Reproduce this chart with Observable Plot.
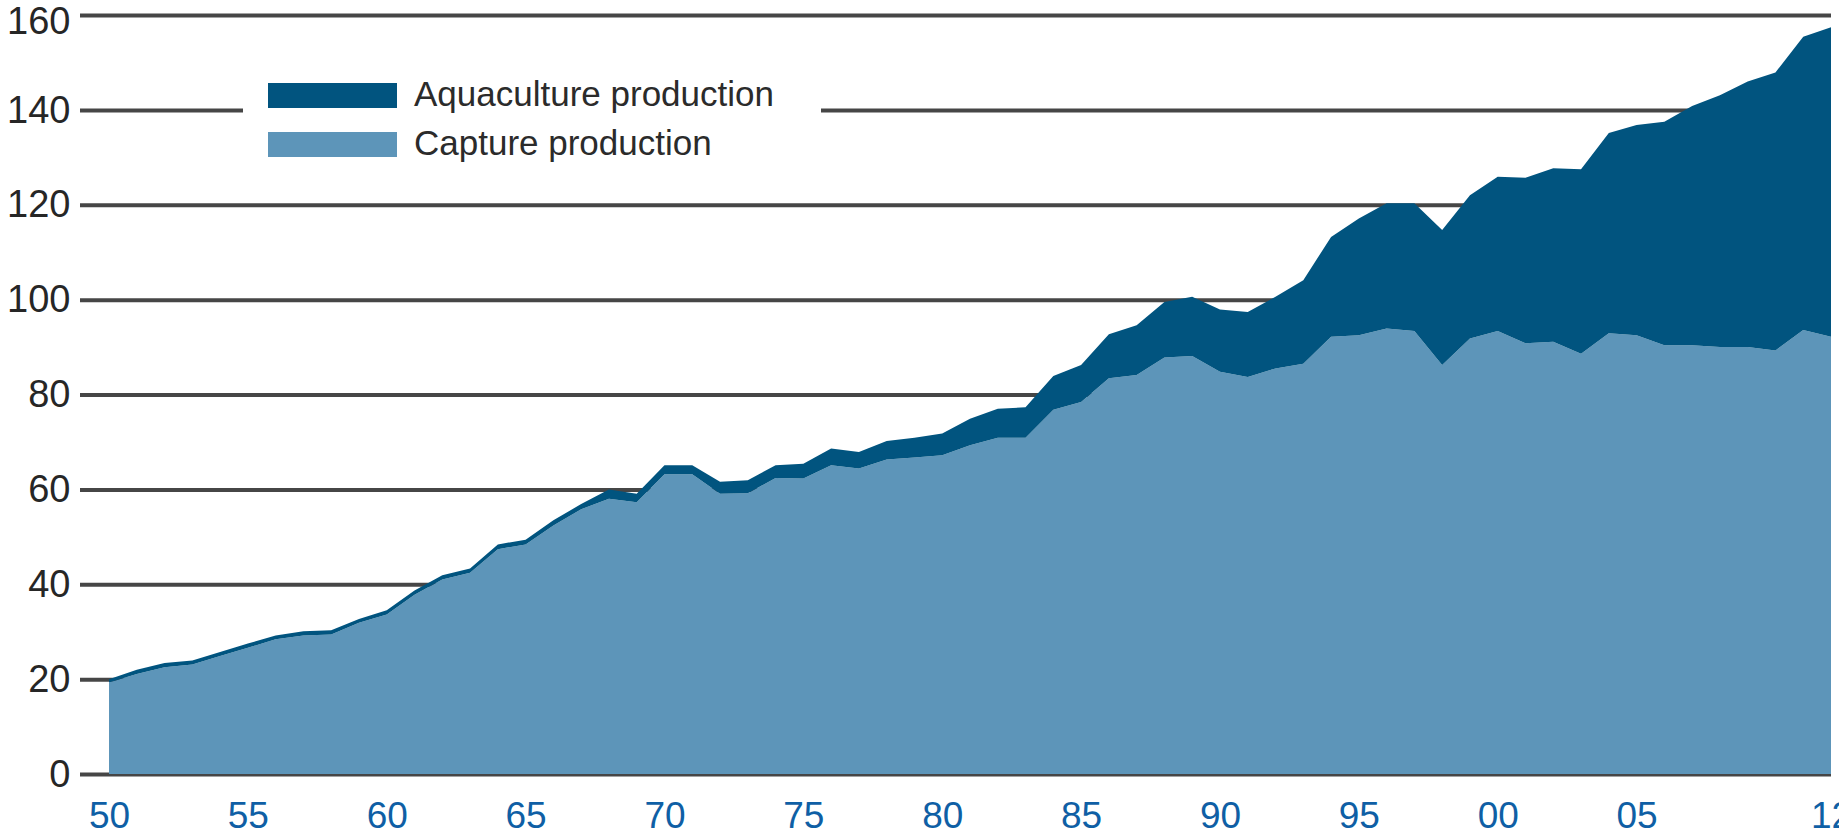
<!DOCTYPE html>
<html>
<head>
<meta charset="utf-8">
<script src="https://cdn.jsdelivr.net/npm/d3@7"></script>
<script src="https://cdn.jsdelivr.net/npm/@observablehq/plot@0.6"></script>
<style>
  html, body { margin: 0; padding: 0; background: #fff; }
  #wrap { position: relative; width: 1839px; height: 836px; overflow: hidden; }
  #legend { position: absolute; left: 243px; top: 70px; width: 578px; height: 100px; background: #fff;
            font-family: "Liberation Sans", Arial, sans-serif; font-size: 35px; color: #2b2b2b; }
  .item { position: absolute; left: 25px; height: 25px; }
  .sw { position: absolute; left: 0; top: 0; width: 129px; height: 25px; }
  .lab { position: absolute; left: 146px; top: -9px; white-space: nowrap; line-height: 40px; }
</style>
</head>
<body>
<div id="wrap">
  <div id="chart"></div>
  <div id="legend"></div>
</div>
<script>
const years = d3.range(1950, 2013);
const capture = [
  19.3, 21.1, 22.5, 23.1, 24.9, 26.6, 28.4, 29.2, 29.4, 31.9,
  33.6, 37.8, 41.0, 42.4, 47.4, 48.4, 52.4, 55.8, 58.0, 57.3,
  63.2, 63.2, 59.1, 59.2, 62.4, 62.3, 65.1, 64.4, 66.3, 66.7,
  67.2, 69.3, 70.9, 70.9, 76.8, 78.4, 83.4, 84.1, 87.8, 88.1,
  84.8, 83.7, 85.5, 86.5, 92.2, 92.5, 93.9, 93.4, 86.2, 91.8,
  93.4, 90.8, 91.1, 88.6, 92.9, 92.5, 90.4, 90.4, 90.0, 90.0,
  89.3, 93.6, 92.2
];
const aquaculture = [
  0.7, 0.9, 0.9, 0.8, 0.8, 0.9, 0.8, 0.9, 0.9, 0.8,
  0.9, 0.9, 0.9, 0.9, 1.0, 1.0, 1.1, 1.1, 2.0, 1.8,
  1.9, 1.9, 2.5, 2.7, 2.7, 3.1, 3.5, 3.5, 3.9, 4.2,
  4.6, 5.6, 6.1, 6.4, 7.1, 7.8, 9.3, 10.5, 11.7, 12.5,
  13.1, 13.7, 15.1, 17.6, 21.0, 24.6, 26.4, 26.9, 28.5, 30.2,
  32.5, 34.9, 36.6, 38.9, 42.2, 44.3, 47.1, 50.4, 53.1, 56.0,
  58.6, 61.8, 65.2
];
const seriesNames = ["Capture production", "Aquaculture production"];
const seriesColors = ["#5d95b9", "#01547f"];
const yTicks = [0, 20, 40, 60, 80, 100, 120, 140, 160];
const xTicks = [1950, 1955, 1960, 1965, 1970, 1975, 1980, 1985, 1990, 1995, 2000, 2005, 2012];
const xTickLabels = ["50", "55", "60", "65", "70", "75", "80", "85", "90", "95", "00", "05", "12"];

const table = [];
years.forEach((yr, i) => {
  table.push({year: yr, series: seriesNames[0], value: capture[i]});
  table.push({year: yr, series: seriesNames[1], value: aquaculture[i]});
});

const yTop = yTicks[yTicks.length - 1];

const chart = Plot.plot({
  width: 1839,
  height: 836,
  marginLeft: 80,
  marginRight: 8,
  marginTop: 15,
  marginBottom: 62,
  style: {fontFamily: "'Liberation Sans', Arial, sans-serif", fontSize: "38px", background: "white", overflow: "visible"},
  x: {domain: [1950, 2012], range: [109, 1831]},
  y: {domain: [0, 160]},
  color: {domain: seriesNames, range: seriesColors},
  marks: [
    Plot.ruleY(yTicks, {stroke: "#464646", strokeWidth: 4}),
    Plot.areaY(table, {x: "year", y: "value", fill: "series", order: seriesNames}),
    Plot.axisY({ticks: yTicks.filter(t => t !== yTop), tickSize: 0, tickPadding: 10, color: "#262626", label: null, fontSize: 38}),
    Plot.axisY({ticks: [yTop], tickSize: 0, tickPadding: 10, dy: 6, color: "#262626", label: null, fontSize: 38}),
    Plot.axisX({ticks: xTicks, tickSize: 0, tickPadding: 27, color: "#0f5fa5", label: null, fontSize: 37,
                tickFormat: d => xTickLabels[xTicks.indexOf(d)]})
  ]
});
document.getElementById("chart").appendChild(chart);

const legend = document.getElementById("legend");
[seriesNames[1], seriesNames[0]].forEach((name, i) => {
  const item = document.createElement("div");
  item.className = "item";
  item.style.top = (13 + i * 49) + "px";
  const sw = document.createElement("div");
  sw.className = "sw";
  sw.style.background = seriesColors[seriesNames.indexOf(name)];
  const lab = document.createElement("div");
  lab.className = "lab";
  lab.textContent = name;
  item.appendChild(sw);
  item.appendChild(lab);
  legend.appendChild(item);
});
</script>
</body>
</html>
